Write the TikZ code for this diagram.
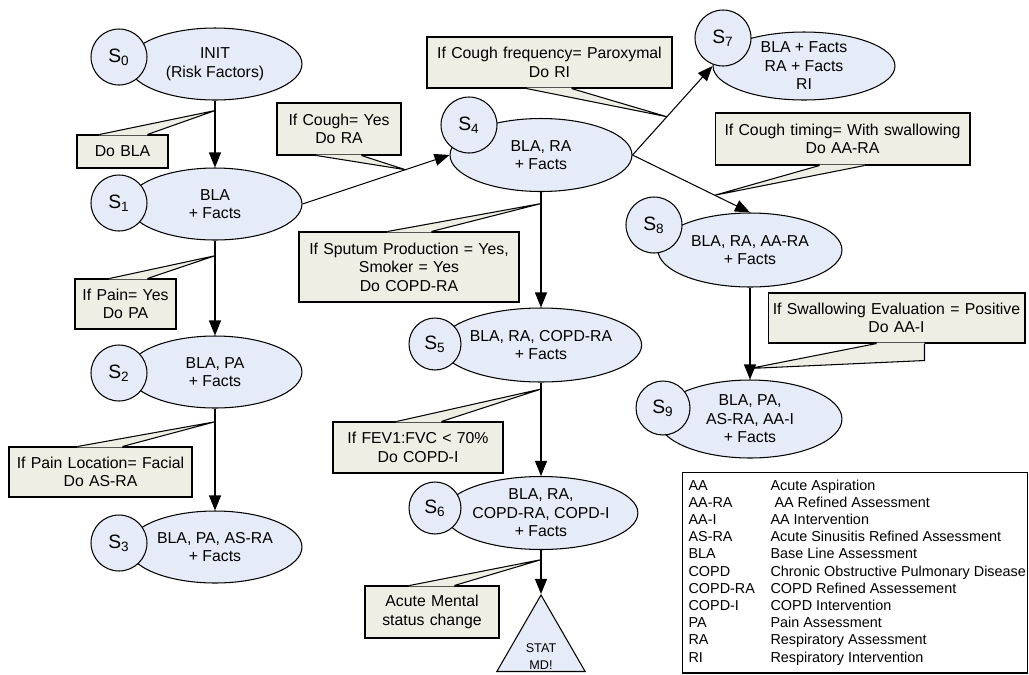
\documentclass[tikz,border=0pt]{standalone}
\usepackage{fontspec}
\setmainfont{Liberation Sans}
\usetikzlibrary{arrows.meta, shapes.geometric, calc}

\definecolor{statefill}{RGB}{230,236,247}
\definecolor{notefill}{RGB}{238,238,228}

\begin{document}
\begin{tikzpicture}[x=0.02cm,y=-0.02cm,line width=0.6pt,
  state/.style={draw,shape=ellipse,fill=statefill,align=center,inner sep=0pt,minimum width=3.48cm,minimum height=1.44cm,font=\fontsize{9}{10.5}\selectfont},
  sid/.style={draw,shape=circle,fill=statefill,inner sep=0pt,minimum size=1.12cm,font=\fontsize{11}{12}\selectfont},
  note/.style={draw,fill=notefill,align=center,inner sep=0pt,text width=#1,font=\fontsize{9}{10.5}\selectfont},
  link/.style={-{Triangle[length=3mm,width=2.4mm]}}]

\useasboundingbox (0,0) rectangle (1029,674);

% Draw the states of the left column
\node[state] (e0) at (215,64) {INIT\\(Risk Factors)};
\node[sid] (s0) at (119,57) {S\textsubscript{0}};
\node[state] (e1) at (215,204) {BLA\\+ Facts};
\node[sid] (s1) at (119,203) {S\textsubscript{1}};
\node[state] (e2) at (215,372) {BLA, PA\\+ Facts};
\node[sid] (s2) at (119,373) {S\textsubscript{2}};
\node[state] (e3) at (215,547) {BLA, PA, AS-RA\\+ Facts};
\node[sid] (s3) at (119,543) {S\textsubscript{3}};

% Draw the states of the middle column
\node[state,minimum width=3.64cm,minimum height=1.46cm] (e4) at (541,155) {BLA, RA\\+ Facts};
\node[sid] (s4) at (469,125) {S\textsubscript{4}};
\node[state,minimum width=3.64cm,minimum height=1.48cm] (e5) at (541,345) {BLA, RA, COPD-RA\\+ Facts};
\node[sid,minimum size=1.04cm] (s5) at (435,344) {S\textsubscript{5}};
\node[state,minimum width=3.56cm,minimum height=1.46cm] (e6) at (541,513) {BLA, RA,\\COPD-RA, COPD-I\\+ Facts};
\node[sid,minimum size=1.04cm] (s6) at (435,508) {S\textsubscript{6}};
\node[draw,fill=statefill,regular polygon,regular polygon sides=3,minimum size=2.04cm,inner sep=0pt] (stat) at (541,646) {};
\node[font=\fontsize{7.2}{9.6}\selectfont,align=center] (stattext) at (541,657) {STAT\\MD!};

% Draw the states of the right column
\node[state,minimum width=3.64cm,minimum height=1.36cm] (e7) at (804,66) {BLA + Facts\\RA + Facts\\RI};
\node[sid] (s7) at (723,38) {S\textsubscript{7}};
\node[state,minimum width=3.68cm,minimum height=1.48cm] (e8) at (750,250) {BLA, RA, AA-RA\\+ Facts};
\node[sid] (s8) at (654,225) {S\textsubscript{8}};
\node[state,minimum width=3.68cm,minimum height=1.56cm] (e9) at (750,419) {BLA, PA,\\AS-RA, AA-I\\+ Facts};
\node[sid,minimum size=1.08cm] (s9) at (663,408) {S\textsubscript{9}};

% Links between the states
\draw[link] (e0.south) -- (e1.north);
\draw[link] (e1.south) -- (e2.north);
\draw[link] (e2.south) -- (e3.north);
\draw[link] (e1.east) -- (e4.west);
\draw[link] (e4.east) -- (e7.west);
\draw[link] (e4.east) -- (e8.north);
\draw[link] (e4.south) -- (e5.north);
\draw[link] (e5.south) -- (e6.north);
\draw[link] (e6.south) -- (stat.corner 1);
\draw[link] (e8.south) -- (e9.north);

% Where the callouts point to
\coordinate (tBLA) at ($(e0.south)!0.15!(e1.north)$);
\coordinate (tPain) at ($(e1.south)!0.16!(e2.north)$);
\coordinate (tFacial) at ($(e2.south)!0.13!(e3.north)$);
\coordinate (tCough) at ($(e1.east)!0.70!(e4.west)$);
\coordinate (tParox) at ($(e4.east)!0.43!(e7.west)$);
\coordinate (tTiming) at ($(e4.east)!0.70!(e8.north)$);
\coordinate (tSputum) at ($(e4.south)!0.10!(e5.north)$);
\coordinate (tFev) at ($(e5.south)!0.07!(e6.north)$);
\coordinate (tMental) at ($(e6.south)!0.22!(stat.corner 1)$);
\coordinate (tSwallow) at ($(e8.south)!0.88!(e9.north)$);

% Callout boxes
\node[note=1.82cm,minimum height=0.66cm] (nBLA) at (122.5,151.5) {Do BLA};
\node[note=2.02cm,minimum height=1.0cm] (nPain) at (125.5,304) {If Pain= Yes\\Do PA};
\node[note=3.66cm,minimum height=1.0cm] (nFacial) at (100.5,472) {If Pain Location= Facial\\Do AS-RA};
\node[note=2.48cm,minimum height=1.04cm] (nCough) at (339,129) {If Cough= Yes\\Do RA};
\node[note=4.9cm,minimum height=1.02cm] (nParox) at (549.5,62.5) {If Cough frequency= Paroxymal\\Do RI};
\node[note=5.1cm,minimum height=1.04cm] (nTiming) at (842.5,139) {If Cough timing= With swallowing\\Do AA-RA};
\node[note=4.4cm,minimum height=1.4cm] (nSputum) at (409,267) {If Sputum Production = Yes,\\Smoker = Yes\\Do COPD-RA};
\node[note=3.4cm,minimum height=1.02cm] (nFev) at (418,447.5) {If FEV1:FVC < 70\%\\Do COPD-I};
\node[note=2.68cm,minimum height=1.04cm] (nMental) at (432,612) {Acute Mental\\status change};
\node[note=5.14cm,minimum height=1.0cm] (nSwallow) at (896.5,318) {If Swallowing Evaluation = Positive\\Do AA-I};

% Callout pointers
\foreach \nn/\pa/\pb/\tp/\sd/\dd in {nBLA/23/71/tBLA/north/1, nPain/35/73/tPain/north/1,
    nFacial/69/114/tFacial/north/1, nCough/40/85/tCough/south/-1, nParox/100/145/tParox/south/-1,
    nTiming/105/150/tTiming/south/-1, nSputum/89/133/tSputum/north/1, nFev/64/109/tFev/north/1,
    nMental/45/90/tMental/north/1}
{
  \fill[notefill] ($(\nn.\sd\space west)+(\pa,\dd)$) -- ($(\nn.\sd\space west)+(\pa,0)$) -- (\tp)
    -- ($(\nn.\sd\space west)+(\pb,0)$) -- ($(\nn.\sd\space west)+(\pb,\dd)$) -- cycle;
  \draw ($(\nn.\sd\space west)+(\pa,0)$) -- (\tp) -- ($(\nn.\sd\space west)+(\pb,0)$);
}
\fill[notefill] ($(nSwallow.south west)+(109,-1)$) -- ($(nSwallow.south west)+(109,0)$) -- (tSwallow)
  -- ($(nSwallow.south west)+(157,17)$) -- ($(nSwallow.south west)+(157,-1)$) -- cycle;
\draw ($(nSwallow.south west)+(109,0)$) -- (tSwallow) -- ($(nSwallow.south west)+(157,17)$) -- ($(nSwallow.south west)+(157,0)$);

% Legend of the abbreviations
\node[draw,minimum width=6.92cm,minimum height=4.02cm] (legend) at (855,572.5) {};
\foreach \ab/\desc [count=\i] in {AA/Acute Aspiration, AA-RA/{\ AA Refined Assessment}, AA-I/AA Intervention,
    AS-RA/Acute Sinusitis Refined Assessment, BLA/Base Line Assessment, COPD/Chronic Obstructive Pulmonary Disease,
    COPD-RA/COPD Refined Assessement, COPD-I/COPD Intervention, PA/Pain Assessment,
    RA/Respiratory Assessment, RI/Respiratory Intervention}
{
  \node[anchor=base west,inner sep=0pt,font=\fontsize{8.2}{9.8}\selectfont] (ab\i) at (688,{490+17.2*(\i-1)}) {\ab};
  \node[anchor=base west,inner sep=0pt,font=\fontsize{8.2}{9.8}\selectfont] (de\i) at (770,{490+17.2*(\i-1)}) {\desc};
}

\end{tikzpicture}
\end{document}
